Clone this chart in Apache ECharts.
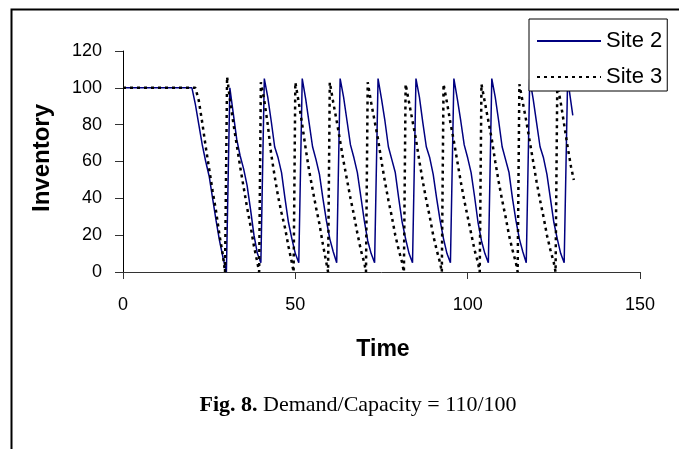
<!DOCTYPE html>
<html>
<head>
<meta charset="utf-8">
<script src="https://cdn.jsdelivr.net/npm/echarts@6/dist/echarts.min.js"></script>
<style>
html,body{margin:0;padding:0;background:#fff;}
#chart{width:679px;height:449px;}
</style>
</head>
<body>
<div id="chart"></div>
<script>
// ---- data ----
const site2Time = [0,20,21,22,23,24,25,26,27,28,29,30,
  31,32,33,34,35,36,37,38,39,40,
  41,42,43,44,45,46,47,48,49,50,51,
  52,53,54,55,56,57,58,59,60,61,62,
  63,64,65,66,67,68,69,70,71,72,73,
  74,75,76,77,78,79,80,81,82,83,84,
  85,86,87,88,89,90,91,92,93,94,95,
  96,97,98,99,100,101,102,103,104,105,106,
  107,108,109,110,111,112,113,114,115,116,117,
  118,119,120,121,122,123,124,125,126,127,128,
  129,130.5];
const site2Value = [100,100,91,80,69,60,52,40,28,17,8,0,
  100,86,72,63,56,47,34,20,10,5,
  105,95,82,68,62,54,40,27,18,10,5,
  105,94,81,68,61,53,40,28,18,11,5,
  105,95,82,69,62,54,41,28,17,10,5,
  105,94,82,68,61,54,40,27,18,10,5,
  105,95,81,68,62,53,40,28,18,10,5,
  105,94,82,69,62,54,41,27,17,10,5,
  105,95,82,68,61,54,40,28,18,11,5,
  105,94,81,68,62,53,40,27,18,10,5,
  105,85];
const site3Time = [0,21,22,23,24,25,26,27,28,29,29.6,
  30.2,31,32,33,34,35,36,37,38,39,39.5,
  40,41,42,43,44,45,46,47,48,49,49.5,
  50,51,52,53,54,55,56,57,58,59,59.5,
  60,61,62,63,64,65,66,67,68,69,70,70.5,
  71,72,73,74,75,76,77,78,79,80,81,81.5,
  82,83,84,85,86,87,88,89,90,91,92,92.5,
  93,94,95,96,97,98,99,100,101,102,103,103.5,
  104,105,106,107,108,109,110,111,112,113,114,114.5,
  115,116,117,118,119,120,121,122,123,124,125,125.5,
  126,127,128,129,130,130.8];
const site3Value = [100,100,93,81,68,56,44,33,20,9,0,
  106,94,81,69,57,46,35,25,14,5,0,
  103,93,80,64,52,41,32,24,14,5,0,
  103,92,80,67,55,45,35,26,15,5,0,
  103,92,82,71,60,50,40,31,21,12,5,0,
  103,92,82,72,60,49,39,30,20,12,5,0,
  102,92,82,72,60,49,39,30,20,12,5,0,
  102,92,81,71,60,49,39,30,21,12,5,0,
  102,92,82,72,60,49,39,30,20,12,5,0,
  102,92,82,71,60,49,39,30,20,12,5,0,
  102,92,80,68,57,50];
const seriesNames = ['Site 2','Site 3'];
const xAxisTitle = 'Time';
const yAxisTitle = 'Inventory';
const captionBold = 'Fig. 8.';
const captionText = ' Demand/Capacity = 110/100';

function pairs(t, v){ return t.map((x,i)=>[x, v[i]]); }

const chart = echarts.init(document.getElementById('chart'), null, {renderer:'canvas'});
const axisColor = '#333';
chart.setOption({
  animation:false,
  backgroundColor:'#fff',
  grid:{left:123, right:39, top:51, bottom:177, containLabel:false},
  xAxis:{type:'value', min:0, max:150, interval:50,
    axisLine:{show:true, onZero:false, lineStyle:{color:axisColor, width:1}},
    axisTick:{show:true, inside:false, length:7, lineStyle:{color:axisColor}},
    splitLine:{show:false},
    axisLabel:{color:'#000', fontFamily:'Liberation Sans', fontSize:18, margin:24}
  },
  yAxis:{type:'value', min:0, max:120, interval:20,
    axisLine:{show:true, onZero:false, lineStyle:{color:'#000', width:1}},
    axisTick:{show:true, inside:false, length:8, lineStyle:{color:axisColor}},
    splitLine:{show:false},
    axisLabel:{color:'#000', fontFamily:'Liberation Sans', fontSize:18, margin:21}
  },
  legend:{
    orient:'vertical', left:529, top:19,
    data:seriesNames,
    backgroundColor:'#fff', borderColor:'#000', borderWidth:1,
    padding:[11,5,3,7], itemGap:14, itemWidth:64, itemHeight:14,
    itemStyle:{opacity:0, borderWidth:0},
    textStyle:{color:'#000', fontFamily:'Liberation Sans', fontSize:22},
    z:10
  },
  series:[
    {name:seriesNames[0], type:'line', data:pairs(site2Time, site2Value),
     symbol:'none', showSymbol:false,
     lineStyle:{color:'#000080', width:1.5}, itemStyle:{color:'#000080'}},
    {name:seriesNames[1], type:'line', data:pairs(site3Time, site3Value),
     symbol:'none', showSymbol:false,
     lineStyle:{color:'#000', width:2.5, type:[3,4], cap:'butt'}, itemStyle:{color:'#000'}}
  ],
  graphic:[
    {type:'rect', left:9, top:7, silent:true, z:-1,
     shape:{x:0, y:0, width:720, height:500},
     style:{fill:'none', stroke:'#000', lineWidth:2}},
    {type:'text', x:42, y:158, rotation:Math.PI/2, silent:true,
     style:{text:yAxisTitle, fill:'#000', font:'bold 24px "Liberation Sans"', align:'center', verticalAlign:'middle'}},
    {type:'text', x:383, y:350, silent:true,
     style:{text:xAxisTitle, fill:'#000', font:'bold 23px "Liberation Sans"', align:'center', verticalAlign:'middle'}},
    {type:'text', x:358, y:405, silent:true,
     style:{text:'{b|'+captionBold+'}{n|'+captionText+'}', align:'center', verticalAlign:'middle',
       rich:{b:{fontFamily:'Liberation Serif', fontWeight:'bold', fontSize:22, fill:'#000'},
             n:{fontFamily:'Liberation Serif', fontSize:22, fill:'#000'}}}}
  ]
});
</script>
</body>
</html>
